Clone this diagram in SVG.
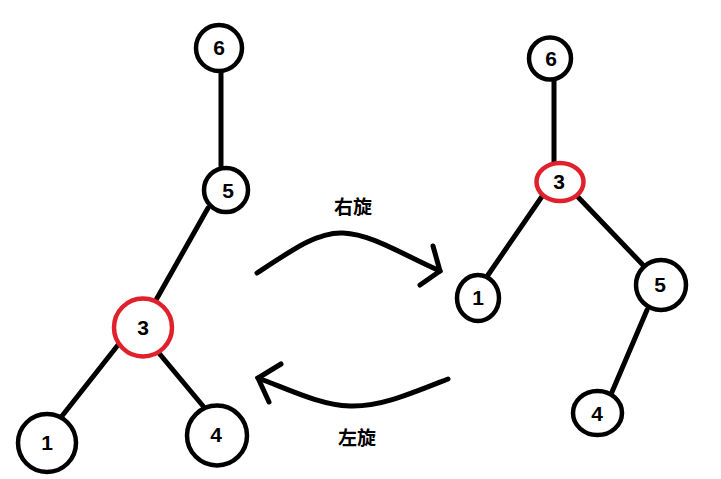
<svg xmlns="http://www.w3.org/2000/svg" width="721" height="479" viewBox="0 0 721 479">
<style>
.e{stroke:#000;stroke-width:5;fill:none;stroke-linecap:round}
.n{fill:#fff;stroke:#000;stroke-width:4.5}
.r{fill:#fff;stroke:#e0202a;stroke-width:4.5}
.t{font-family:"Liberation Sans",Arial,sans-serif;font-weight:bold;font-size:21px;text-anchor:middle;fill:#000}
.l{font-family:"Liberation Sans","Noto Sans CJK SC",sans-serif;font-weight:bold;font-size:19px;text-anchor:middle;fill:#000}
</style>
<rect width="721" height="479" fill="#fff"/>
<g id="connectors">
<line class="e" x1="221" y1="72" x2="221" y2="166"/>
<line class="e" x1="208" y1="208" x2="156" y2="300"/>
<line class="e" x1="118" y1="345" x2="62" y2="416"/>
<line class="e" x1="158" y1="352" x2="203" y2="406"/>
<line class="e" x1="554" y1="80" x2="554" y2="164"/>
<line class="e" x1="543" y1="195" x2="488" y2="275"/>
<line class="e" x1="578" y1="197" x2="643" y2="265"/>
<line class="e" x1="647" y1="310" x2="612" y2="392"/>
<path class="e" d="M257,273 C295,248 318,232 343,233 C372,234 405,256 440,271"/>
<path class="e" d="M433,246 L440,271 L420,285"/>
<path class="e" d="M448,379 C410,394 380,407 350,406 C320,405 290,390 258,378"/>
<path class="e" d="M281,364 L258,378 L269,402"/>
</g>
<g id="L6"><circle class="n" cx="219" cy="48" r="23"/><text class="t" x="219" y="55">6</text></g>
<g id="L5"><circle class="n" cx="226" cy="190" r="22"/><text class="t" x="228" y="198">5</text></g>
<g id="L3"><circle class="r" cx="143" cy="327.5" r="29"/><text class="t" x="143" y="335">3</text></g>
<g id="L1"><circle class="n" cx="47" cy="443" r="29"/><text class="t" x="47" y="450">1</text></g>
<g id="L4"><circle class="n" cx="217" cy="435.5" r="30"/><text class="t" x="216" y="442">4</text></g>
<g id="R6"><circle class="n" cx="550" cy="58.5" r="21"/><text class="t" x="551" y="66">6</text></g>
<g id="R3"><ellipse class="r" cx="560" cy="182" rx="23.5" ry="19"/><text class="t" x="559" y="189">3</text></g>
<g id="R1"><ellipse class="n" cx="478" cy="298" rx="21" ry="23"/><text class="t" x="478" y="305">1</text></g>
<g id="R5"><circle class="n" cx="661" cy="285" r="25"/><text class="t" x="660" y="292">5</text></g>
<g id="R4"><ellipse class="n" cx="597.5" cy="413" rx="24.5" ry="22"/><text class="t" x="597" y="421">4</text></g>
<text class="l" x="353" y="214">右旋</text>
<text class="l" x="357" y="445">左旋</text>
</svg>
